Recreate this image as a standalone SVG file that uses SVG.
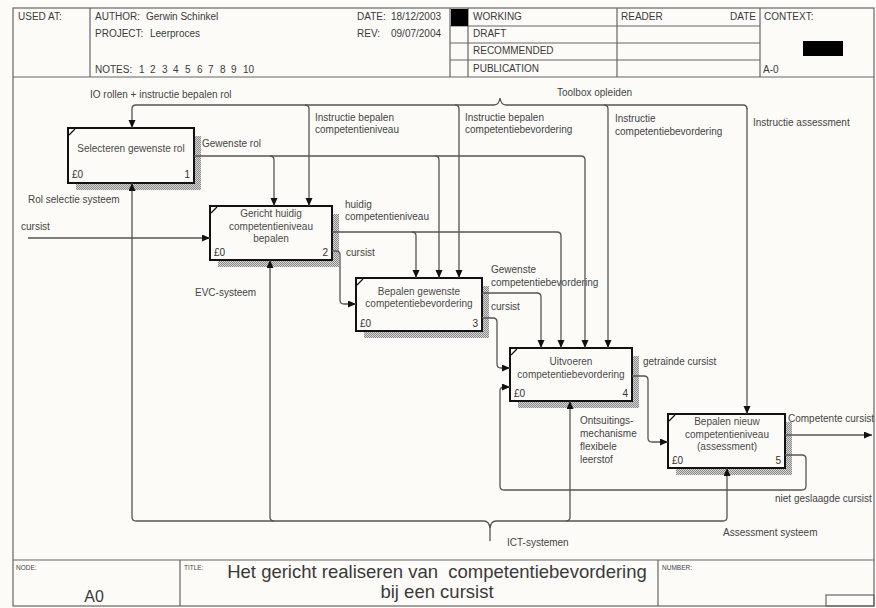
<svg xmlns="http://www.w3.org/2000/svg" width="876" height="608" viewBox="0 0 876 608">
<style>
text{font-family:"Liberation Sans",Arial,sans-serif;fill:#3a3a3a}
.h{font-size:10px}
.l{font-size:10px;fill:#444}
.bt{font-size:10px;fill:#4a4a4a;text-anchor:middle}
.bn{font-size:10px;fill:#333}
.sm{font-size:6.5px;fill:#444}
.fr{fill:none;stroke:#666;stroke-width:1.2}
.c{fill:none;stroke:#555;stroke-width:1.3}
.ca{fill:none;stroke:#555;stroke-width:1.3;marker-end:url(#ar)}
.box{fill:#fdfbf7;stroke:#111;stroke-width:2}
.sh{fill:url(#hatch)}
.cm{stroke:#111;stroke-width:1.3}
</style>
<defs>
<pattern id="hatch" width="2" height="2" patternUnits="userSpaceOnUse">
<rect width="2" height="2" fill="#d6d6d6"/>
<rect width="1" height="1" fill="#8a8a8a"/>
<rect x="1" y="1" width="1" height="1" fill="#8a8a8a"/>
</pattern>
<marker id="ar" markerUnits="userSpaceOnUse" markerWidth="9" markerHeight="8" refX="8" refY="3.5" orient="auto">
<path d="M0,0 L8,3.5 L0,7 z" fill="#111"/>
</marker>
</defs>
<rect width="876" height="608" fill="#fdfbf7"/>

<g id="frame">
<rect class="fr" x="13" y="8" width="861" height="598"/>
<line class="fr" x1="13" y1="77" x2="874" y2="77"/>
<line class="fr" x1="90" y1="8" x2="90" y2="77"/>
<line class="fr" x1="450" y1="8" x2="450" y2="77"/>
<line class="fr" x1="468" y1="8" x2="468" y2="77"/>
<line class="fr" x1="617" y1="8" x2="617" y2="77"/>
<line class="fr" x1="760" y1="8" x2="760" y2="77"/>
<line class="fr" x1="450" y1="26" x2="760" y2="26"/>
<line class="fr" x1="450" y1="43" x2="760" y2="43"/>
<line class="fr" x1="450" y1="60" x2="760" y2="60"/>
<rect x="451" y="9" width="17" height="17" fill="#000"/>
<rect x="803" y="41" width="40" height="15" fill="#000"/>
<text class="h" x="18" y="20">USED AT:</text>
<text class="h" x="95" y="20">AUTHOR:</text>
<text class="h" x="146" y="20">Gerwin Schinkel</text>
<text class="h" x="95" y="37">PROJECT:</text>
<text class="h" x="150" y="37">Leerproces</text>
<text class="h" y="73"><tspan x="95">NOTES:</tspan><tspan x="139">1</tspan><tspan x="150">2</tspan><tspan x="162">3</tspan><tspan x="173">4</tspan><tspan x="185">5</tspan><tspan x="197">6</tspan><tspan x="208">7</tspan><tspan x="220">8</tspan><tspan x="231">9</tspan><tspan x="243">10</tspan></text>
<text class="h" x="357" y="20">DATE:</text>
<text class="h" x="391" y="20">18/12/2003</text>
<text class="h" x="357" y="37">REV:</text>
<text class="h" x="391" y="37">09/07/2004</text>
<text class="h" x="473" y="20">WORKING</text>
<text class="h" x="473" y="37">DRAFT</text>
<text class="h" x="473" y="54">RECOMMENDED</text>
<text class="h" x="473" y="72">PUBLICATION</text>
<text class="h" x="621" y="20">READER</text>
<text class="h" x="756" y="20" text-anchor="end">DATE</text>
<text class="h" x="764" y="20">CONTEXT:</text>
<text class="h" x="763" y="73">A-0</text>
<line class="fr" x1="13" y1="560" x2="874" y2="560"/>
<line class="fr" x1="180" y1="560" x2="180" y2="606"/>
<line class="fr" x1="658" y1="560" x2="658" y2="606"/>
<rect class="fr" x="826" y="595" width="48" height="11"/>
<text class="sm" x="16" y="570">NODE:</text>
<text class="sm" x="184" y="570">TITLE:</text>
<text class="sm" x="662" y="570">NUMBER:</text>
<text x="94" y="602" font-size="16" text-anchor="middle" fill="#222">A0</text>
<text x="437" y="578" font-size="18.5" text-anchor="middle" fill="#222" xml:space="preserve" style="white-space:pre">Het gericht realiseren van  competentiebevordering</text>
<text x="437" y="598" font-size="18.5" text-anchor="middle" fill="#222">bij een cursist</text>
</g>

<g id="box1">
<rect class="sh" x="194" y="136" width="7" height="54"/>
<rect class="sh" x="76" y="183" width="125" height="7"/>
<rect class="box" x="68" y="128" width="126" height="55"/>
<line class="cm" x1="69" y1="135" x2="75" y2="129"/>
<text class="bt" x="131" y="152">Selecteren gewenste rol</text>
<text class="bn" x="72" y="178">£0</text>
<text class="bn" x="190" y="178" text-anchor="end">1</text>
</g>

<g id="box2">
<rect class="sh" x="332" y="214" width="7" height="53"/>
<rect class="sh" x="218" y="260" width="121" height="7"/>
<rect class="box" x="210" y="206" width="122" height="54"/>
<line class="cm" x1="211" y1="213" x2="217" y2="207"/>
<text class="bt" x="271" y="217">Gericht huidig</text>
<text class="bt" x="271" y="230">competentieniveau</text>
<text class="bt" x="271" y="242">bepalen</text>
<text class="bn" x="214" y="256">£0</text>
<text class="bn" x="328" y="256" text-anchor="end">2</text>
</g>

<g id="box3">
<rect class="sh" x="482" y="286" width="7" height="52"/>
<rect class="sh" x="364" y="331" width="125" height="7"/>
<rect class="box" x="356" y="278" width="126" height="53"/>
<line class="cm" x1="357" y1="285" x2="363" y2="279"/>
<text class="bt" x="419" y="295">Bepalen gewenste</text>
<text class="bt" x="419" y="307">competentiebevordering</text>
<text class="bn" x="360" y="327">£0</text>
<text class="bn" x="478" y="327" text-anchor="end">3</text>
</g>

<g id="box4">
<rect class="sh" x="632" y="356" width="7" height="52"/>
<rect class="sh" x="518" y="401" width="121" height="7"/>
<rect class="box" x="510" y="348" width="122" height="53"/>
<line class="cm" x1="511" y1="355" x2="517" y2="349"/>
<text class="bt" x="571" y="365">Uitvoeren</text>
<text class="bt" x="571" y="378">competentiebevordering</text>
<text class="bn" x="514" y="397">£0</text>
<text class="bn" x="628" y="397" text-anchor="end">4</text>
</g>

<g id="box5">
<rect class="sh" x="785" y="422" width="7" height="53"/>
<rect class="sh" x="676" y="468" width="116" height="7"/>
<rect class="box" x="668" y="414" width="117" height="54"/>
<line class="cm" x1="669" y1="421" x2="675" y2="415"/>
<text class="bt" x="727" y="425">Bepalen nieuw</text>
<text class="bt" x="727" y="438">competentieniveau</text>
<text class="bt" x="727" y="450">(assessment)</text>
<text class="bn" x="672" y="464">£0</text>
<text class="bn" x="781" y="464" text-anchor="end">5</text>
</g>

<g id="connectors">
<path class="ca" d="M494,105 H136 Q132,105 132,109 V128"/>
<path class="c" d="M494,105 Q499,105 500,98 Q501,105 506,105 H743 Q747,105 747,109"/>
<path class="ca" d="M747,108 V414"/>
<path class="ca" d="M305,105 Q309,105 309,109 V206"/>
<path class="ca" d="M455,105 Q459,105 459,109 V278"/>
<path class="ca" d="M604,105 Q608,105 608,109 V348"/>
<path class="ca" d="M194,156 H581 Q585,156 585,160 V348"/>
<path class="ca" d="M270,156 Q274,156 274,160 V206"/>
<path class="ca" d="M435,156 Q439,156 439,160 V278"/>
<path class="ca" d="M332,232 H557 Q561,232 561,236 V348"/>
<path class="ca" d="M412,232 Q416,232 416,236 V278"/>
<path class="ca" d="M332,251 H336 Q340,251 340,255 V300 Q340,304 344,304 H356"/>
<path class="ca" d="M482,293 H537 Q541,293 541,297 V348"/>
<path class="ca" d="M482,318 H493 Q497,318 497,322 V364 Q497,368 501,368 H510"/>
<path class="ca" d="M632,376 H644 Q648,376 648,380 V438 Q648,442 652,442 H668"/>
<path class="ca" d="M785,435 H872"/>
<path class="ca" d="M785,455 H802 Q806,455 806,459 V486 Q806,490 802,490 H504 Q500,490 500,486 V391 Q500,387 504,387 H510"/>
<path class="ca" d="M28,238 H210"/>
<path class="ca" d="M484,521 H136 Q132,521 132,517 V183"/>
<path class="ca" d="M274,521 Q270,521 270,517 V260"/>
<path class="c" d="M484,521 Q489,521 490,528 Q491,521 496,521"/>
<path class="c" d="M490,527 V541"/>
<path class="ca" d="M496,521 H566 Q570,521 570,517 V401"/>
<path class="ca" d="M566,521 H723 Q727,521 727,517 V468"/>
</g>

<g id="labels">
<text class="l" x="90" y="98">IO rollen + instructie bepalen rol</text>
<text class="l" x="557" y="96">Toolbox opleiden</text>
<text class="l" x="315" y="121">Instructie bepalen</text>
<text class="l" x="315" y="133">competentieniveau</text>
<text class="l" x="465" y="121">Instructie bepalen</text>
<text class="l" x="465" y="133">competentiebevordering</text>
<text class="l" x="615" y="122">Instructie</text>
<text class="l" x="615" y="135">competentiebevordering</text>
<text class="l" x="753" y="126">Instructie assessment</text>
<text class="l" x="202" y="147">Gewenste rol</text>
<text class="l" x="28" y="203">Rol selectie systeem</text>
<text class="l" x="21" y="230">cursist</text>
<text class="l" x="345" y="208">huidig</text>
<text class="l" x="345" y="220">competentieniveau</text>
<text class="l" x="346" y="256">cursist</text>
<text class="l" x="195" y="296">EVC-systeem</text>
<text class="l" x="491" y="273">Gewenste</text>
<text class="l" x="491" y="286">competentiebevordering</text>
<text class="l" x="491" y="310">cursist</text>
<text class="l" x="643" y="365">getrainde cursist</text>
<text class="l" x="788" y="422">Competente cursist</text>
<text class="l" x="580" y="424">Ontsuitings-</text>
<text class="l" x="580" y="437">mechanisme</text>
<text class="l" x="580" y="450">flexibele</text>
<text class="l" x="580" y="463">leerstof</text>
<text class="l" x="775" y="502">niet geslaagde cursist</text>
<text class="l" x="723" y="536">Assessment systeem</text>
<text class="l" x="507" y="546">ICT-systemen</text>
</g>
</svg>
